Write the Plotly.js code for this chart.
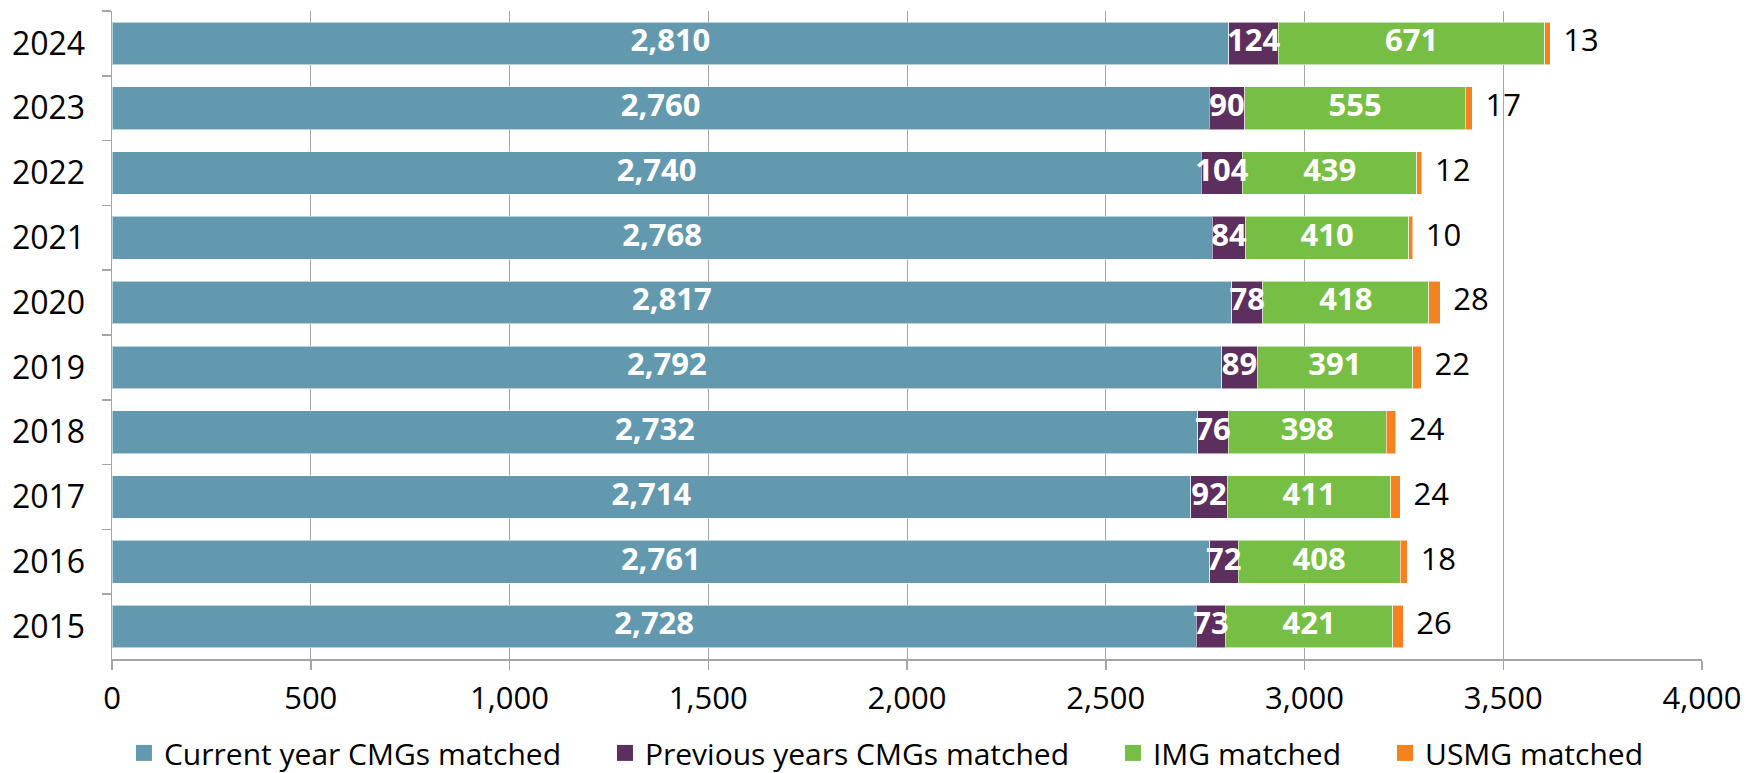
<!DOCTYPE html>
<html>
<head>
<meta charset="utf-8">
<script src="https://cdn.plot.ly/plotly-3.0.1.min.js"></script>
<style>html,body{margin:0;padding:0;background:#fff;}#chart{width:1746px;height:773px;}</style>
</head>
<body>
<div id="chart"></div>
<script>
const years = ['2024','2023','2022','2021','2020','2019','2018','2017','2016','2015'];
const currentYearCMG = [2810, 2760, 2740, 2768, 2817, 2792, 2732, 2714, 2761, 2728];
const previousYearsCMG = [124, 90, 104, 84, 78, 89, 76, 92, 72, 73];
const imgMatched = [671, 555, 439, 410, 418, 391, 398, 411, 408, 421];
const usmgMatched = [13, 17, 12, 10, 28, 22, 24, 24, 18, 26];
const seriesNames = ['Current year CMGs matched', 'Previous years CMGs matched', 'IMG matched', 'USMG matched'];
const seriesColors = ['#6299AF', '#5C2F5E', '#77BF44', '#F5821F'];
const xTickVals = [0, 500, 1000, 1500, 2000, 2500, 3000, 3500, 4000];

const FONT = '"Open Sans", "Noto Sans", sans-serif';
const fmt = v => v.toLocaleString('en-US');
const lineStyle = {color: 'rgba(255,255,255,0.55)', width: 1};
const series = [currentYearCMG, previousYearsCMG, imgMatched, usmgMatched];

const traces = [];
// stacked bars
series.forEach((vals, i) => {
  traces.push({
    type: 'bar', orientation: 'h', name: seriesNames[i], x: vals, y: years,
    marker: {color: seriesColors[i], line: lineStyle},
    showlegend: false, hoverinfo: 'skip'
  });
});
// labels drawn on top of all bars (centres from cumulative sums)
const starts = series.map((vals, i) => vals.map((v, k) => {
  let s = 0; for (let j = 0; j < i; j++) s += series[j][k]; return s;
}));
for (let i = 0; i < 3; i++) {
  traces.push({
    type: 'scatter', mode: 'text', x: series[i].map((v, k) => starts[i][k] + v / 2), y: years,
    text: series[i].map(fmt), textposition: 'middle center',
    textfont: {family: FONT, size: 31, color: '#ffffff', weight: 'bold'},
    showlegend: false, hoverinfo: 'skip', cliponaxis: false
  });
}
traces.push({
  type: 'scatter', mode: 'text', x: usmgMatched.map((v, k) => starts[3][k] + v), y: years,
  text: usmgMatched.map(v => '\u00A0\u2009' + fmt(v)), textposition: 'middle right',
  textfont: {family: FONT, size: 31, color: '#000000'},
  showlegend: false, hoverinfo: 'skip', cliponaxis: false
});
// legend entries
const pad = '\u00A0\u00A0\u00A0\u00A0\u00A0';
seriesNames.forEach((n, i) => {
  traces.push({
    type: 'scatter', mode: 'markers', x: [null], y: [null], name: n + (i < 3 ? pad : ''),
    marker: {symbol: 'square', size: 16, color: seriesColors[i]},
    showlegend: true, hoverinfo: 'skip'
  });
});

const layout = {
  width: 1746, height: 773,
  margin: {l: 111.5, r: 43.5, t: 11, b: 113.5},
  barmode: 'stack', bargap: 0.34,
  paper_bgcolor: '#ffffff', plot_bgcolor: '#ffffff',
  font: {family: FONT, size: 31, color: '#000000'},
  showlegend: true,
  legend: {
    orientation: 'h', x: 0.071, xanchor: 'left', xref: 'container',
    y: 0.026, yanchor: 'middle', yref: 'container', traceorder: 'normal',
    font: {family: FONT, size: 30, color: '#000000'},
    itemwidth: 30, tracegroupgap: 0, bgcolor: 'rgba(0,0,0,0)'
  },
  xaxis: {
    range: [0, 4000], tickvals: xTickVals, ticktext: xTickVals.map(fmt),
    showgrid: true, gridcolor: '#A6A6A6', gridwidth: 1,
    showline: true, linecolor: '#A6A6A6', linewidth: 1.5,
    ticks: 'outside', ticklen: 9, tickcolor: '#A6A6A6', tickwidth: 1.5,
    zeroline: false, fixedrange: true, ticklabelstandoff: 2,
    tickfont: {family: FONT, size: 31, color: '#000000'}
  },
  yaxis: {
    type: 'category', autorange: 'reversed',
    showline: true, linecolor: '#A6A6A6', linewidth: 1.5,
    ticks: 'outside', ticklen: 9, tickcolor: '#A6A6A6', tickwidth: 1.5,
    tickson: 'boundaries', showgrid: false, zeroline: false,
    ticklabelstandoff: 19, fixedrange: true,
    tickfont: {family: FONT, size: 32, color: '#000000'}
  }
};

Plotly.newPlot('chart', traces, layout, {displayModeBar: false, staticPlot: true});
</script>
</body>
</html>
